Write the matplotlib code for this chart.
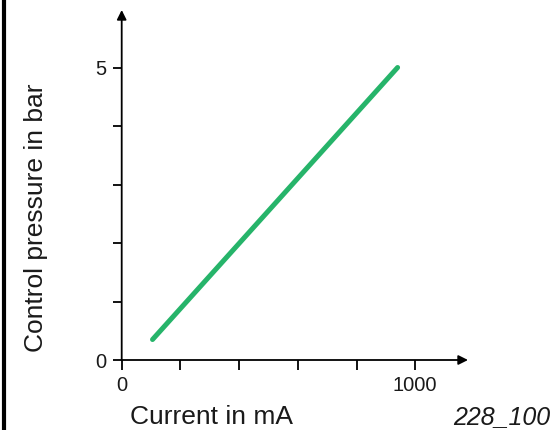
import matplotlib
matplotlib.use("Agg")
import matplotlib.pyplot as plt
from matplotlib.lines import Line2D

plt.rcParams['font.family'] = ['Liberation Sans', 'DejaVu Sans']
plt.rcParams['text.color'] = '#1a1a1a'
plt.rcParams['xtick.labelcolor'] = '#1a1a1a'
plt.rcParams['ytick.labelcolor'] = '#1a1a1a'

# Data
current_ma = [105, 940]
pressure_bar = [0.35, 5.0]

x_ticks = [0, 200, 400, 600, 800, 1000]
x_tick_labels = ['0', '', '', '', '', '1000']
y_ticks = [0, 1, 2, 3, 4, 5]
y_tick_labels = ['0', '', '', '', '', '5']

W, H = 555, 430
fig = plt.figure(figsize=(W / 100, H / 100), dpi=100)

# axes placed so the origin sits at (122, 360) px
left, bottom = 121.7, 360
right, top = 468, 10
ax = fig.add_axes([left / W, 1 - bottom / H, (right - left) / W, (bottom - top) / H])
ax.set_xlim(0, (right - left) / 0.2935)
ax.set_ylim(0, (bottom - top) / 58.5)

ax.plot(current_ma, pressure_bar, color='#26b46a', linewidth=3.6,
        solid_capstyle='round')

for s in ax.spines.values():
    s.set_visible(False)

# axis lines with arrow heads
ax.annotate('', xy=(1, 0), xytext=(0, 0), xycoords='axes fraction',
            arrowprops=dict(arrowstyle='-|>', color='black', lw=1.3,
                            mutation_scale=14, shrinkA=0, shrinkB=0))
ax.annotate('', xy=(0, 1), xytext=(0, 0), xycoords='axes fraction',
            arrowprops=dict(arrowstyle='-|>', color='black', lw=1.3,
                            mutation_scale=14, shrinkA=0, shrinkB=0))

ax.set_xticks(x_ticks)
ax.set_xticklabels(x_tick_labels)
ax.set_yticks(y_ticks)
ax.set_yticklabels(y_tick_labels)
ax.tick_params(axis='x', direction='out', length=7.2, width=1.3, pad=4,
               labelsize=14.5)
ax.tick_params(axis='y', direction='out', length=6.5, width=1.3, pad=4.5,
               labelsize=14.5)

fig.text(130 / W, 1 - 424 / H, 'Current in mA', fontsize=19,
         ha='left', va='baseline')
fig.text(36 / W, 1 - 217.5 / H, 'Control pressure in bar', fontsize=19,
         rotation=90, ha='center', va='center')
fig.text(550 / W, 1 - 424 / H, '228_100', fontsize=18, style='italic',
         ha='right', va='baseline')

# black border line on the left edge
fig.add_artist(Line2D([4 / W, 4 / W], [0, 1], color='black', linewidth=3,
                      transform=fig.transFigure))

fig.savefig('out.png', dpi=100)
